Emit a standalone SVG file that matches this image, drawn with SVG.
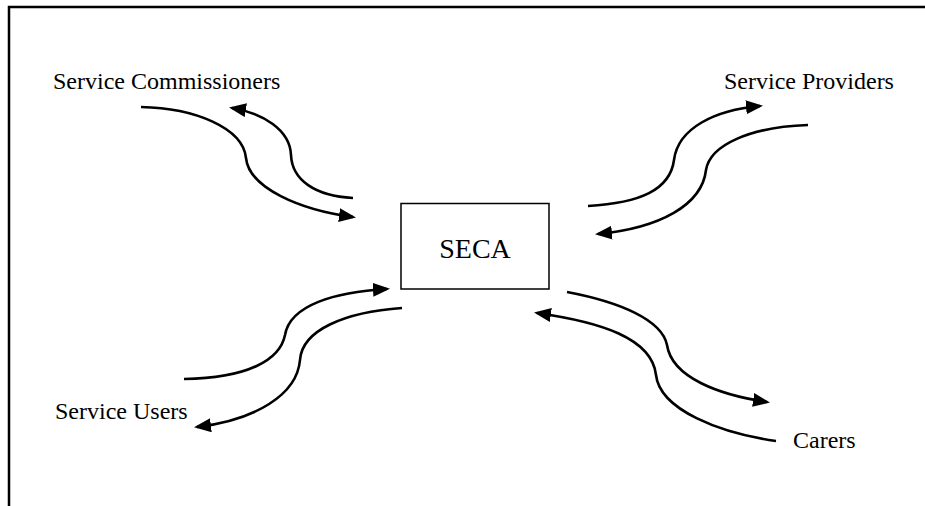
<svg xmlns="http://www.w3.org/2000/svg" width="925" height="506" viewBox="0 0 925 506">
  <defs>
    <marker id="arrow" markerUnits="userSpaceOnUse" markerWidth="18" markerHeight="15" refX="14" refY="7" orient="auto">
      <path d="M0,0 L17,7 L0,14 z" fill="#000"/>
    </marker>
    <style>
      .label { font-family: "Liberation Serif", "Times New Roman", serif; font-size: 24px; fill: #000; }
      .flow { fill: none; stroke: #000; stroke-width: 2.6; marker-end: url(#arrow); }
      .frame { stroke: #000; stroke-width: 2.5; fill: none; }
    </style>
  </defs>
  <rect width="925" height="506" fill="#fff"/>

  <!-- page frame -->
  <path class="frame" d="M9,506 L9,7 L925,7"/>

  <!-- central node -->
  <g id="seca">
    <rect x="401" y="203.5" width="148" height="85.5" fill="#fff" stroke="#000" stroke-width="1.5"/>
    <text x="475" y="258" text-anchor="middle" style="font-family: 'Liberation Serif', 'Times New Roman', serif; font-size: 28px;">SECA</text>
  </g>

  <g id="service-commissioners">
    <text class="label" x="53" y="89">Service Commissioners</text>
  </g>
  <g id="service-providers">
    <text class="label" x="724" y="89">Service Providers</text>
  </g>
  <g id="service-users">
    <text class="label" x="55" y="419">Service Users</text>
  </g>
  <g id="carers">
    <text class="label" x="793" y="448">Carers</text>
  </g>

  <!-- two-way flows between SECA and each party -->
  <g id="connectors">
    <path class="flow" d="M141,107 C195,108 243,128 246,158 C249,188 300,210 353,217"/>
    <path class="flow" d="M353,198 C315,196 292,180 291,155 C290,130 263,113 232,108"/>

    <path class="flow" d="M588,206 C640,203 670,190 674,160 C678,128 715,110 760,106"/>
    <path class="flow" d="M808,125 C750,127 710,145 706,170 C702,205 660,228 598,234"/>

    <path class="flow" d="M184,379 C248,378 280,360 285,335 C290,305 335,292 387,289"/>
    <path class="flow" d="M402,308 C345,312 302,330 300,360 C297,395 255,420 197,427"/>

    <path class="flow" d="M567,292 C620,302 662,320 667,345 C672,378 720,395 767,402"/>
    <path class="flow" d="M776,441 C720,433 660,410 656,375 C652,338 600,322 537,313"/>
  </g>
</svg>
